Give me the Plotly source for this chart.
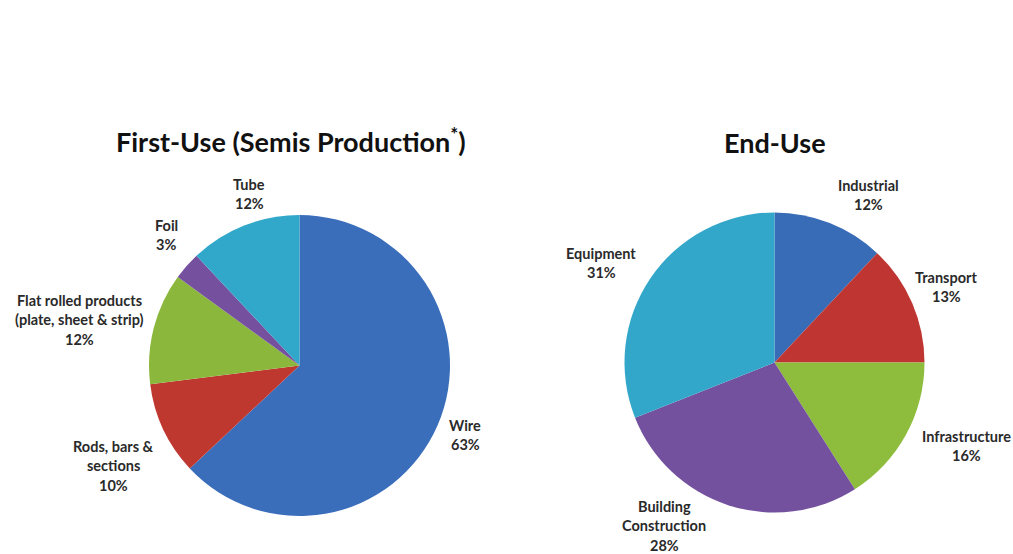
import plotly.graph_objects as go

# First-use (semis production) shares, in percent
first_use_labels = ["Wire", "Rods, bars &\nsections", "Flat rolled products\n(plate, sheet & strip)", "Foil", "Tube"]
first_use_values = [63, 10, 12, 3, 12]
first_use_colors = ["#3a6ebb", "#bf382f", "#8bb73d", "#75509f", "#31a7ca"]

# End-use shares, in percent
end_use_labels = ["Industrial", "Transport", "Infrastructure", "Building\nConstruction", "Equipment"]
end_use_values = [12, 13, 16, 28, 31]
end_use_colors = ["#396cb6", "#be3531", "#8ebc3c", "#74519f", "#32a7ca"]

W, H = 1013, 554

# label anchor (pixel centre of the first text line) for each slice
first_use_label_pos = [(465, 425), (113, 446), (79, 300), (166, 225), (249, 184)]
end_use_label_pos = [(868, 185), (946, 277), (966, 436), (664, 506), (601, 253)]
LINE_STEP = 19.5


def px_domain(cx, cy, r):
    return dict(x=[(cx - r) / W, (cx + r) / W], y=[(H - (cy + r)) / H, (H - (cy - r)) / H])


fig = go.Figure()
fig.add_trace(go.Pie(
    labels=[l.replace("\n", " ") for l in first_use_labels], values=first_use_values,
    marker=dict(colors=first_use_colors, line=dict(width=0)),
    sort=False, direction="clockwise", rotation=0, textinfo="none",
    domain=px_domain(299.5, 365.5, 150.5), hoverinfo="label+percent",
))
fig.add_trace(go.Pie(
    labels=[l.replace("\n", " ") for l in end_use_labels], values=end_use_values,
    marker=dict(colors=end_use_colors, line=dict(width=0)),
    sort=False, direction="clockwise", rotation=0, textinfo="none",
    domain=px_domain(774.5, 362.5, 150), hoverinfo="label+percent",
))

annotations = []
label_font = dict(family="Lato", size=14.5, color="#2a2a2a")


def add_labels(labels, values, positions):
    for lab, val, (x, y) in zip(labels, values, positions):
        lines = lab.split("\n") + [f"{val}%"]
        for i, line in enumerate(lines):
            annotations.append(dict(
                x=x / W, y=1 - (y + i * LINE_STEP) / H, xref="paper", yref="paper",
                text=f"<b>{line}</b>", showarrow=False, font=label_font,
                xanchor="center", yanchor="middle",
            ))


add_labels(first_use_labels, first_use_values, first_use_label_pos)
add_labels(end_use_labels, end_use_values, end_use_label_pos)

title_font = dict(family="Lato", size=27, color="#111111")
annotations.append(dict(x=291 / W, y=1 - 140 / H, xref="paper", yref="paper",
                        text="<b>First-Use (Semis Production<sup>*</sup>)</b>", showarrow=False,
                        font=title_font, xanchor="center", yanchor="middle"))
annotations.append(dict(x=775 / W, y=1 - 142 / H, xref="paper", yref="paper",
                        text="<b>End-Use</b>", showarrow=False,
                        font=title_font, xanchor="center", yanchor="middle"))

fig.update_layout(
    width=W, height=H, margin=dict(l=0, r=0, t=0, b=0),
    paper_bgcolor="white", plot_bgcolor="white", showlegend=False,
    annotations=annotations,
)

fig.write_html("out.html")
